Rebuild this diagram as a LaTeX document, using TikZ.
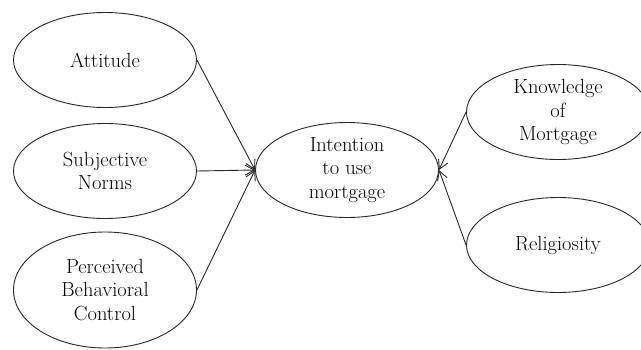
\documentclass[tikz,border=0pt]{standalone}
\usetikzlibrary{arrows.meta,shapes.geometric}
\tikzset{
	varnode/.style = {ellipse, draw=black!85, align=center, inner sep=0pt,
		font=\fontsize{20.5}{23.5}\selectfont, line width=0.9pt,
		minimum width=183pt, minimum height=95pt},% variable
	var_big/.style = {varnode, minimum height=116pt},% variable, three lines
	link/.style = {->, line width=0.9pt, draw=black!85}
}
\begin{document}
\begin{tikzpicture}[x=1pt,y=-1pt,>={Straight Barb[length=9pt,width=10pt]}]
\useasboundingbox (0,0) rectangle (641,349);
\node [varnode] (att) at (105,60) {Attitude};
\node [varnode] (sn) at (105,171) {Subjective\\Norms};
\node [var_big] (pbc) at (105,290) {Perceived\\Behavioral\\Control};
\node [varnode] (int) at (347,170) {Intention\\to use\\mortgage};
\node [varnode] (know) at (558,112) {Knowledge\\of\\Mortgage};
\node [varnode] (rel) at (558,245) {Religiosity};
% left side
\draw [link] (att.east) -- (int.west);
\draw [link] (sn.east) -- (int.west);
\draw [link] (pbc.east) -- (int.west);
% right side
\draw [link] (know.west) -- (int.east);
\draw [link] (rel.west) -- (int.east);
\end{tikzpicture}
\end{document}
